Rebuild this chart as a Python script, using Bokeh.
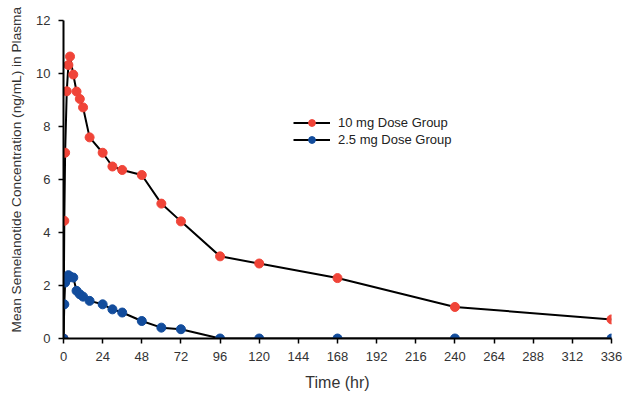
from bokeh.plotting import figure
from bokeh.models import Range1d, Legend, LegendItem, Title, FixedTicker
from bokeh.embed import file_html
from bokeh.resources import INLINE

time_hr = [0, 0.5, 1, 2, 3, 4, 6, 8, 10, 12, 16, 24, 30, 36, 48, 60, 72, 96, 120, 168, 240, 336]
dose_10mg = [0, 4.44, 7.01, 9.33, 10.32, 10.64, 9.96, 9.32, 9.04, 8.72, 7.59, 7.01, 6.49, 6.36, 6.17, 5.09, 4.42, 3.10, 2.83, 2.28, 1.19, 0.72]
dose_2_5mg = [0, 1.29, 2.11, 2.24, 2.39, 2.34, 2.30, 1.80, 1.67, 1.58, 1.42, 1.29, 1.10, 0.98, 0.66, 0.41, 0.35, 0, 0, 0, 0, 0]
x_ticks = list(range(0, 337, 24))
y_ticks = [0, 2, 4, 6, 8, 10, 12]
series_names = ["10 mg Dose Group", "2.5 mg Dose Group"]
x_title = "Time (hr)"
y_title = "Mean Semelanotide Concentration (ng/mL) in Plasma"

FONT = "Liberation Sans"
RED = "#F04438"
BLUE = "#124C9C"

p = figure(frame_width=548, frame_height=318, output_backend="svg", toolbar_location=None,
           x_range=Range1d(0, 336), y_range=Range1d(0, 12),
           min_border_left=63, min_border_right=14, min_border_top=20, min_border_bottom=56)
p.outline_line_color = None
p.grid.grid_line_color = None
p.background_fill_color = "white"

for ax in (p.xaxis[0], p.yaxis[0]):
    ax.axis_line_color = "black"
    ax.axis_line_width = 2
    ax.major_tick_line_color = "black"
    ax.major_tick_line_width = 1.5
    ax.major_tick_out = 5
    ax.major_tick_in = 0
    ax.minor_tick_line_color = None
    ax.major_label_text_font = FONT
    ax.major_label_text_font_size = "13px"
    ax.major_label_text_color = "#333333"
    ax.major_label_standoff = 8

p.xaxis.ticker = FixedTicker(ticks=x_ticks)
p.yaxis.ticker = FixedTicker(ticks=y_ticks)
p.xaxis.axis_label = x_title
p.xaxis.axis_label_text_font = FONT
p.xaxis.axis_label_text_font_size = "16px"
p.xaxis.axis_label_text_font_style = "normal"
p.xaxis.axis_label_text_color = "#333333"
p.xaxis.axis_label_standoff = 10

ytitle = Title(text=y_title, align="left", vertical_align="top", offset=6, standoff=16,
               text_font=FONT, text_font_size="13.7px", text_font_style="normal",
               text_color="#333333")
p.add_layout(ytitle, "left")

l1 = p.line(time_hr, dose_10mg, line_color="black", line_width=2)
s1 = p.scatter(time_hr, dose_10mg, size=9, fill_color=RED, line_color=RED)
l2 = p.line(time_hr, dose_2_5mg, line_color="black", line_width=2)
s2 = p.scatter(time_hr, dose_2_5mg, size=9, fill_color=BLUE, line_color=BLUE)

legend = Legend(items=[LegendItem(label=series_names[0], renderers=[l1, s1]),
                       LegendItem(label=series_names[1], renderers=[l2, s2])],
                location=(230, 190), glyph_width=37, glyph_height=17, label_height=17,
                label_standoff=8, label_text_font=FONT, label_text_font_size="13px",
                label_text_color="#222222", spacing=0, padding=0, margin=0,
                border_line_color=None, background_fill_alpha=0)
p.add_layout(legend, "center")

open("out.html", "w").write(file_html(p, INLINE))
